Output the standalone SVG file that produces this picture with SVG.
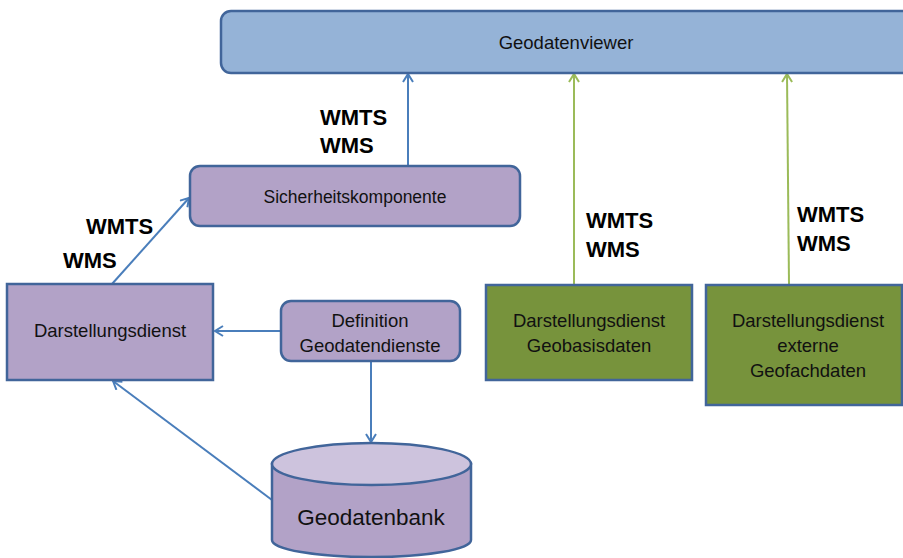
<svg xmlns="http://www.w3.org/2000/svg" width="903" height="558" viewBox="0 0 903 558">
<style>
.box{stroke:#41659a;stroke-width:2.5}
.purple{fill:#b2a2c7}
.green{fill:#77933c}
.blue{fill:#95b3d7}
.t{font-family:"Liberation Sans",Arial,sans-serif;font-size:18.5px;fill:#111;text-anchor:middle}
.sm{font-size:17.5px}
.big{font-size:22.5px}
.lbl{font-family:"Liberation Sans",Arial,sans-serif;font-size:22px;font-weight:bold;fill:#000}
.cb{stroke:#4a7ebb;stroke-width:2;fill:none}
.cg{stroke:#9bbb59;stroke-width:2;fill:none}
</style>
<defs>
<marker id="ab" markerUnits="userSpaceOnUse" markerWidth="14" markerHeight="14" refX="9" refY="6" orient="auto">
<path d="M1,1 L9,6 L1,11" fill="none" stroke="#4a7ebb" stroke-width="2"/>
</marker>
<marker id="ag" markerUnits="userSpaceOnUse" markerWidth="14" markerHeight="14" refX="9" refY="6" orient="auto">
<path d="M1,1 L9,6 L1,11" fill="none" stroke="#9bbb59" stroke-width="2"/>
</marker>
</defs>
<rect width="903" height="558" fill="#fff"/>
<g id="connectors">
<line class="cb" x1="408" y1="166" x2="408" y2="74" marker-end="url(#ab)"/>
<line class="cb" x1="112" y1="284" x2="189" y2="198" marker-end="url(#ab)"/>
<line class="cb" x1="281" y1="331" x2="215" y2="331" marker-end="url(#ab)"/>
<line class="cb" x1="371" y1="361" x2="371" y2="442" marker-end="url(#ab)"/>
<line class="cb" x1="272" y1="500" x2="113" y2="381" marker-end="url(#ab)"/>
<line class="cg" x1="574" y1="285" x2="574" y2="74" marker-end="url(#ag)"/>
<line class="cg" x1="789" y1="284" x2="787" y2="74" marker-end="url(#ag)"/>
<text class="lbl" x="320" y="125">WMTS</text>
<text class="lbl" x="320" y="153">WMS</text>
<text class="lbl" x="86" y="234">WMTS</text>
<text class="lbl" x="63" y="268">WMS</text>
<text class="lbl" x="586" y="228">WMTS</text>
<text class="lbl" x="586" y="257">WMS</text>
<text class="lbl" x="797" y="222">WMTS</text>
<text class="lbl" x="797" y="251">WMS</text>
</g>
<g id="geodatenviewer">
<rect class="box blue" x="221" y="11" width="700" height="62" rx="10"/>
<text class="t" x="566" y="49">Geodatenviewer</text>
</g>
<g id="sicherheitskomponente">
<rect class="box purple" x="190" y="166" width="330" height="60" rx="10"/>
<text class="t sm" x="355" y="203">Sicherheitskomponente</text>
</g>
<g id="darstellungsdienst">
<rect class="box purple" x="7" y="284" width="206" height="96"/>
<text class="t" x="110" y="337">Darstellungsdienst</text>
</g>
<g id="definition">
<rect class="box purple" x="281" y="301" width="179" height="60" rx="10"/>
<text class="t" x="370" y="327">Definition</text>
<text class="t" x="370" y="352">Geodatendienste</text>
</g>
<g id="geodatenbank">
<path class="box purple" d="M272,464 L272,540 A99,17 0 0 0 471,540 L471,464 Z"/>
<ellipse class="box" cx="371.5" cy="464" rx="99.5" ry="21" fill="#cdc3dd"/>
<text class="t big" x="371" y="525">Geodatenbank</text>
</g>
<g id="geobasisdaten">
<rect class="box green" x="486" y="285" width="206" height="95"/>
<text class="t" x="589" y="327">Darstellungsdienst</text>
<text class="t" x="589" y="352">Geobasisdaten</text>
</g>
<g id="geofachdaten">
<rect class="box green" x="706" y="285" width="196" height="120"/>
<text class="t" x="808" y="327">Darstellungsdienst</text>
<text class="t" x="808" y="352">externe</text>
<text class="t" x="808" y="377">Geofachdaten</text>
</g>
</svg>
